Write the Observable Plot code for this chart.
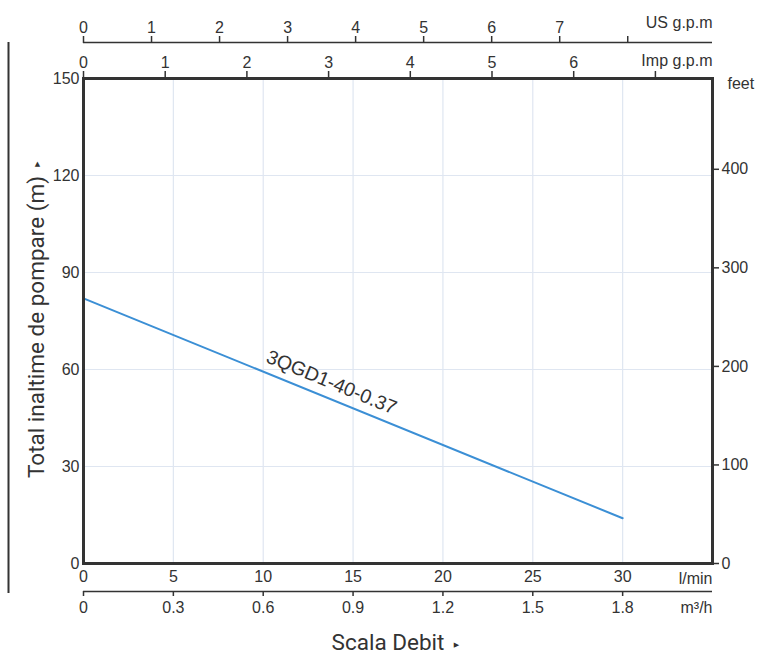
<!DOCTYPE html>
<html>
<head>
<meta charset="utf-8">
<script src="https://cdn.jsdelivr.net/npm/d3@7"></script>
<script src="https://cdn.jsdelivr.net/npm/@observablehq/plot@0.6"></script>
<style>
  html, body { margin: 0; padding: 0; background: #fff; }
  #chart { width: 758px; height: 655px; }
</style>
</head>
<body>
<div id="chart"></div>
<script>
// ---- data ----
const flowLmin = [0, 30];            // l/min
const headM = [82, 14];              // m
const curveName = "3QGD1-40-0.37";
const curveLabelAt = [13.8, 56];     // l/min, m (label anchor)

const lminTicks = [0, 5, 10, 15, 20, 25, 30];
const m3hTicks = [0, 0.3, 0.6, 0.9, 1.2, 1.5, 1.8];
const usGpmTicks = [0, 1, 2, 3, 4, 5, 6, 7, 8];
const impGpmTicks = [0, 1, 2, 3, 4, 5, 6, 7];
const headTicks = [0, 30, 60, 90, 120, 150];
const feetTicks = [0, 100, 200, 300, 400];

const US_GAL = 3.78541, IMP_GAL = 4.54609, FT = 3.28084;

const curve = flowLmin.map((q, i) => ({q, h: headM[i]}));
const ink = "#333";
const tickFont = "Liberation Sans, Arial, sans-serif";
const titleFont = "Roboto, Inter, sans-serif";

const chart = Plot.plot({
  width: 758,
  height: 655,
  marginLeft: 83,
  marginRight: 46,
  marginTop: 78,
  marginBottom: 92,
  x: {domain: [0, 35], label: null},
  y: {domain: [0, 150], label: null},
  style: {fontFamily: tickFont, fontSize: "16px", color: ink, background: "#fff", overflow: "visible"},
  marks: [
    Plot.gridX(lminTicks.slice(1), {stroke: "#dfe6f1", strokeOpacity: 1, strokeWidth: 1.2}),
    Plot.gridY(headTicks.slice(1, -1), {stroke: "#dfe6f1", strokeOpacity: 1, strokeWidth: 1.2}),
    Plot.line(curve, {x: "q", y: "h", stroke: "#3b8fd5", strokeWidth: 2}),
    Plot.text([curveLabelAt], {x: d => d[0], y: d => d[1], text: [curveName], rotate: 22.5, fontSize: 19.5, fill: ink, fontFamily: tickFont}),
    Plot.frame({stroke: ink, strokeWidth: 3}),
    // left axis (m)
    Plot.axisY(headTicks, {anchor: "left", label: null, tickSize: 0, tickPadding: 4, fontSize: 16, fill: ink}),
    // right axis (feet)
    Plot.axisY(feetTicks.map(f => f / FT), {anchor: "right", label: null, tickSize: 6, tickPadding: 3, stroke: ink, strokeWidth: 1.5, fontSize: 16, fill: ink, tickFormat: d => Math.round(d * FT)}),
    // bottom axis l/min
    Plot.axisX(lminTicks, {anchor: "bottom", label: null, tickSize: 0, tickPadding: 7, fontSize: 16, fill: ink}),
    // m3/h axis
    Plot.ruleY([0], {dy: 28, stroke: ink, strokeWidth: 1.5}),
    Plot.axisX(m3hTicks.map(v => v / 0.06), {anchor: "bottom", label: null, dy: 28, tickSize: 5, tickPadding: 5, stroke: ink, strokeWidth: 1.5, fontSize: 16, fill: ink, tickFormat: d => d3.format(".1f")(d * 0.06).replace(/^0\.0$/, "0")}),
    // Imp gpm axis (on frame top)
    Plot.axisX(impGpmTicks.map(g => g * IMP_GAL), {anchor: "top", label: null, tickSize: 8, tickPadding: 3, stroke: ink, strokeWidth: 1.5, fontSize: 16, fill: ink, tickFormat: d => { const g = Math.round(d / IMP_GAL); return g === 7 ? "" : g; }}),
    // US gpm axis
    Plot.ruleY([150], {dy: -36, stroke: ink, strokeWidth: 1.5}),
    Plot.axisX(usGpmTicks.map(g => g * US_GAL), {anchor: "top", label: null, dy: -36, tickSize: 7, tickPadding: 3, stroke: ink, strokeWidth: 1.5, fontSize: 16, fill: ink, tickFormat: d => { const g = Math.round(d / US_GAL); return g === 8 ? "" : g; }}),
    // left vertical bar
    Plot.ruleX([0], {dx: -75, insetTop: -36, insetBottom: -30, stroke: ink, strokeWidth: 2}),
    // unit labels
    Plot.text(["US g.p.m"], {frameAnchor: "top-right", textAnchor: "end", lineAnchor: "middle", dy: -56, fontSize: 16, fill: ink}),
    Plot.text(["Imp g.p.m"], {frameAnchor: "top-right", textAnchor: "end", lineAnchor: "middle", dy: -18, fontSize: 16, fill: ink}),
    Plot.text(["feet"], {frameAnchor: "top-right", textAnchor: "start", lineAnchor: "middle", dx: 15, dy: 5, fontSize: 16, fill: ink}),
    Plot.text(["l/min"], {frameAnchor: "bottom-right", textAnchor: "end", lineAnchor: "middle", dy: 15, fontSize: 16, fill: ink}),
    Plot.text(["m³/h"], {frameAnchor: "bottom-right", textAnchor: "end", lineAnchor: "middle", dy: 44, fontSize: 16, fill: ink}),
    // titles
    Plot.text(["Total inaltime de pompare (m)"], {frameAnchor: "left", textAnchor: "middle", lineAnchor: "middle", rotate: -90, dx: -47, dy: 6, fontSize: 22.5, fill: ink, fontFamily: titleFont}),
    Plot.text(["▲"], {frameAnchor: "left", textAnchor: "middle", lineAnchor: "middle", dx: -46, dy: -157, fontSize: 7, fill: ink, fontFamily: "DejaVu Sans"}),
    Plot.text(["Scala Debit"], {frameAnchor: "bottom", textAnchor: "middle", lineAnchor: "middle", dx: -10, dy: 79, fontSize: 22.5, fill: ink, fontFamily: titleFont}),
    Plot.text(["▶"], {frameAnchor: "bottom", textAnchor: "middle", lineAnchor: "middle", dx: 58.5, dy: 81, fontSize: 7, fill: ink, fontFamily: "DejaVu Sans"})
  ]
});
document.getElementById("chart").appendChild(chart);
</script>
</body>
</html>
